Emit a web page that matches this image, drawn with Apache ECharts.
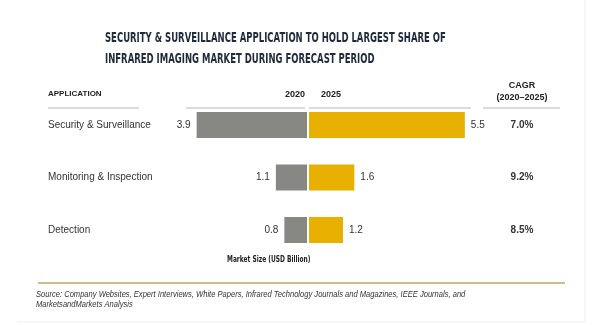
<!DOCTYPE html>
<html><head><meta charset="utf-8">
<script src="https://cdn.jsdelivr.net/npm/echarts@6/dist/echarts.min.js"></script>
<style>html,body{margin:0;padding:0;background:#fff}#c{width:600px;height:325px}</style>
</head><body><div id="c"></div>
<script>
const categories = ['Security & Surveillance', 'Monitoring & Inspection', 'Detection'];
const values2020 = [3.9, 1.1, 0.8];
const values2025 = [5.5, 1.6, 1.2];
const cagr = ['7.0%', '9.2%', '8.5%'];
const years = ['2020', '2025'];

const txt = '#333';
const bodyFont = '"Liberation Sans", Arial, sans-serif';
const narrow = '"DejaVu Sans Condensed", sans-serif';
const chart = echarts.init(document.getElementById('c'));
chart.setOption({
  animation: false,
  backgroundColor: '#fff',
  grid: [
    {left: 165.5, width: 141.5, top: 98.75, height: 157.5},
    {left: 309, width: 170, top: 98.75, height: 157.5}
  ],
  xAxis: [
    {gridIndex: 0, type: 'value', min: 0, max: 5, inverse: true, show: false},
    {gridIndex: 1, type: 'value', min: 0, max: 6, show: false}
  ],
  yAxis: [
    {gridIndex: 0, type: 'category', data: categories, inverse: true,
     axisLine: {show: false}, axisTick: {show: false},
     axisLabel: {align: 'left', margin: 117.5, color: txt, fontSize: 10, fontFamily: bodyFont}},
    {gridIndex: 1, type: 'category', data: cagr, inverse: true, position: 'right',
     axisLine: {show: false}, axisTick: {show: false},
     axisLabel: {align: 'center', margin: 43, color: txt, fontSize: 10, fontWeight: 'bold', fontFamily: bodyFont}}
  ],
  series: [
    {name: years[0], type: 'bar', xAxisIndex: 0, yAxisIndex: 0, data: values2020, barWidth: 26,
     itemStyle: {color: '#878784'},
     label: {show: true, position: 'left', distance: 6, color: txt, fontSize: 10, fontFamily: bodyFont,
             formatter: p => p.value.toFixed(1)}},
    {name: years[1], type: 'bar', xAxisIndex: 1, yAxisIndex: 1, data: values2025, barWidth: 26,
     itemStyle: {color: '#e8b000'},
     label: {show: true, position: 'right', distance: 6, color: txt, fontSize: 10, fontFamily: bodyFont,
             formatter: p => p.value.toFixed(1)}}
  ],
  graphic: [
    {type: 'text', x: 105, y: 27.5, scaleX: 0.70, style: {text: 'SECURITY & SURVEILLANCE APPLICATION TO HOLD LARGEST SHARE OF\nINFRARED IMAGING MARKET DURING FORECAST PERIOD', font: 'bold 13.5px ' + narrow, fill: '#1f2a3a', lineHeight: 21}},
    {type: 'text', left: 48, top: 90, style: {text: 'APPLICATION', font: 'bold 8px ' + bodyFont, fill: '#222'}},
    {type: 'text', right: 295, top: 90, style: {text: years[0], font: 'bold 9px ' + bodyFont, fill: '#222'}},
    {type: 'text', left: 321, top: 90, style: {text: years[1], font: 'bold 9px ' + bodyFont, fill: '#222'}},
    {type: 'text', x: 522, y: 80, style: {text: 'CAGR\n(2020–2025)', font: 'bold 9px ' + bodyFont, fill: '#222', align: 'center', lineHeight: 12}},
    {type: 'line', shape: {x1: 48, y1: 108, x2: 139, y2: 108}, style: {stroke: '#cfcfcf', lineWidth: 1.5}},
    {type: 'line', shape: {x1: 186, y1: 108, x2: 305, y2: 108}, style: {stroke: '#cfcfcf', lineWidth: 1.5}},
    {type: 'line', shape: {x1: 309, y1: 108, x2: 471, y2: 108}, style: {stroke: '#cfcfcf', lineWidth: 1.5}},
    {type: 'line', shape: {x1: 483, y1: 108, x2: 560, y2: 108}, style: {stroke: '#cfcfcf', lineWidth: 1.5}},
    {type: 'text', x: 227, y: 255, scaleX: 0.73, style: {text: 'Market Size (USD Billion)', font: 'bold 9px ' + narrow, fill: '#222'}},
    {type: 'line', shape: {x1: 38, y1: 283, x2: 565, y2: 283}, style: {stroke: '#d2bb86', lineWidth: 2}},
    {type: 'text', x: 36, y: 290, scaleX: 0.89, style: {text: 'Source: Company Websites, Expert Interviews, White Papers, Infrared Technology Journals and Magazines, IEEE Journals, and\nMarketsandMarkets Analysis', font: 'italic 8.5px ' + bodyFont, fill: '#333', lineHeight: 10}},
    {type: 'line', shape: {x1: 585, y1: 0, x2: 585, y2: 322}, style: {stroke: '#eeeeee', lineWidth: 1}},
    {type: 'line', shape: {x1: 17, y1: 322, x2: 585, y2: 322}, style: {stroke: '#eeeeee', lineWidth: 1}}
  ]
});
</script></body></html>
